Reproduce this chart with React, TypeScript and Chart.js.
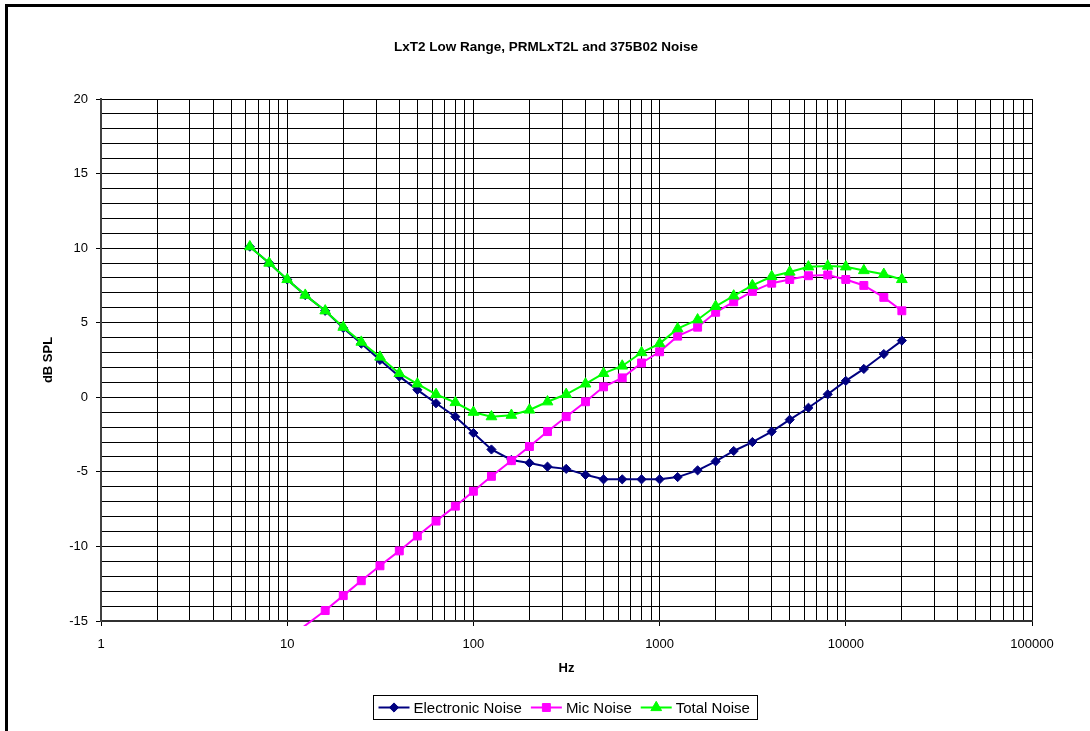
import React, { useEffect, useRef } from 'react';
import { Chart, registerables } from 'chart.js';

Chart.register(...registerables);

const chartTitle = 'LxT2 Low Range, PRMLxT2L and 375B02 Noise';
const xAxisTitle = 'Hz';
const yAxisTitle = 'dB SPL';

const freqs = [6.3, 8, 10, 12.5, 16, 20, 25, 31.5, 40, 50, 63, 80, 100, 125, 160, 200, 250, 315, 400, 500, 630, 800, 1000, 1250, 1600, 2000, 2500, 3150, 4000, 5000, 6300, 8000, 10000, 12500, 16000, 20000];
const electronicNoise = [10.1, 9.0, 7.9, 6.85, 5.8, 4.65, 3.6, 2.5, 1.4, 0.5, -0.4, -1.3, -2.4, -3.5, -4.2, -4.4, -4.65, -4.8, -5.2, -5.5, -5.5, -5.5, -5.5, -5.35, -4.9, -4.3, -3.6, -3.0, -2.3, -1.5, -0.7, 0.2, 1.1, 1.9, 2.9, 3.8];
const micNoise = [-18.3, -17.3, -16.3, -15.3, -14.3, -13.3, -12.3, -11.3, -10.3, -9.3, -8.3, -7.3, -6.3, -5.3, -4.25, -3.3, -2.3, -1.3, -0.3, 0.7, 1.3, 2.3, 3.05, 4.1, 4.7, 5.7, 6.4, 7.1, 7.65, 7.9, 8.15, 8.2, 7.9, 7.5, 6.7, 5.8];
const totalNoise = [10.1, 9.0, 7.9, 6.85, 5.8, 4.7, 3.7, 2.7, 1.6, 0.9, 0.2, -0.35, -1.0, -1.3, -1.2, -0.85, -0.3, 0.2, 0.9, 1.6, 2.1, 3.0, 3.6, 4.6, 5.2, 6.1, 6.8, 7.5, 8.1, 8.4, 8.75, 8.8, 8.75, 8.5, 8.25, 7.9];

const seriesNames = ['Electronic Noise', 'Mic Noise', 'Total Noise'];
const seriesColors = ['#000080', '#FF00FF', '#00FF00'];
const seriesMarkers = ['rectRot', 'rect', 'triangle'];
const markerRadius = [4.6, 5.6, 6.2];

const yMin = -15;
const yMax = 20;
const xMin = 1;
const xMax = 100000;

const FONT = '"Liberation Sans", Arial, sans-serif';

const isPow10 = (v: number) => {
  const l = Math.log10(v);
  return Math.abs(l - Math.round(l)) < 1e-9;
};

function buildXTicks() {
  const out: { value: number }[] = [];
  for (let k = 0; k < 5; k++) {
    for (let m = 1; m <= 9; m++) out.push({ value: m * Math.pow(10, k) });
  }
  out.push({ value: xMax });
  return out;
}

function buildYTicks() {
  const out: { value: number }[] = [];
  for (let v = yMin; v <= yMax; v++) out.push({ value: v });
  return out;
}

function drawMarker(ctx: CanvasRenderingContext2D, style: string, x: number, y: number, r: number, color: string) {
  ctx.save();
  ctx.fillStyle = color;
  ctx.strokeStyle = color;
  ctx.lineWidth = 1;
  ctx.beginPath();
  if (style === 'rectRot') {
    ctx.moveTo(x, y - r);
    ctx.lineTo(x + r, y);
    ctx.lineTo(x, y + r);
    ctx.lineTo(x - r, y);
  } else if (style === 'rect') {
    const s = r * Math.SQRT1_2;
    ctx.rect(x - s, y - s, 2 * s, 2 * s);
  } else {
    ctx.moveTo(x, y - r);
    ctx.lineTo(x + Math.sin((2 * Math.PI) / 3) * r, y + r * 0.5);
    ctx.lineTo(x - Math.sin((2 * Math.PI) / 3) * r, y + r * 0.5);
  }
  ctx.closePath();
  ctx.fill();
  ctx.stroke();
  ctx.restore();
}

const decorPlugin = {
  id: 'decor',
  afterDraw(chart: any) {
    const ctx: CanvasRenderingContext2D = chart.ctx;
    const area = chart.chartArea;
    ctx.save();
    // outer frame (top & left visible)
    ctx.fillStyle = '#000';
    ctx.fillRect(5, 4, 1090, 3);
    ctx.fillRect(5, 4, 3, 731);

    // title
    ctx.fillStyle = '#000';
    ctx.textAlign = 'center';
    ctx.textBaseline = 'middle';
    ctx.font = `bold 13.5px ${FONT}`;
    ctx.fillText(chartTitle, 546, 47);

    // x axis title
    ctx.font = `bold 13px ${FONT}`;
    ctx.fillText(xAxisTitle, (area.left + area.right) / 2, 668);

    // y axis title
    ctx.save();
    ctx.translate(48, (area.top + area.bottom) / 2);
    ctx.rotate(-Math.PI / 2);
    ctx.fillText(yAxisTitle, 0, 0);
    ctx.restore();

    // legend
    ctx.font = `15px ${FONT}`;
    const lineLen = 31;
    const widths = seriesNames.map((n) => ctx.measureText(n).width);
    const total = 5 + widths.reduce((a, w) => a + 35 + w, 0) + 9 * (seriesNames.length - 1) + 8;
    const boxLeft = Math.round(565 - total / 2) + 0.5;
    const boxTop = 695.5;
    const boxH = 24;
    ctx.fillStyle = '#fff';
    ctx.fillRect(boxLeft, boxTop, total, boxH);
    ctx.strokeStyle = '#000';
    ctx.lineWidth = 1;
    ctx.strokeRect(boxLeft, boxTop, Math.round(total), boxH);
    let x = boxLeft + 5;
    const cy = boxTop + boxH / 2;
    seriesNames.forEach((name, i) => {
      ctx.strokeStyle = seriesColors[i];
      ctx.lineWidth = 2;
      ctx.beginPath();
      ctx.moveTo(x, cy);
      ctx.lineTo(x + lineLen, cy);
      ctx.stroke();
      drawMarker(ctx, seriesMarkers[i], x + lineLen / 2, cy, markerRadius[i], seriesColors[i]);
      ctx.fillStyle = '#000';
      ctx.textAlign = 'left';
      ctx.textBaseline = 'middle';
      ctx.fillText(name, x + 35, cy + 1);
      x += 35 + widths[i] + 9;
    });
    ctx.restore();
  },
};

export default function App() {
  const canvasRef = useRef<HTMLCanvasElement | null>(null);

  useEffect(() => {
    document.body.style.margin = '0';
    const canvas = canvasRef.current;
    if (!canvas) return;

    const series = [electronicNoise, micNoise, totalNoise];
    const datasets = series.map((vals, i) => ({
      label: seriesNames[i],
      data: freqs.map((f, j) => ({ x: f, y: vals[j] })),
      borderColor: seriesColors[i],
      backgroundColor: seriesColors[i],
      borderWidth: 2,
      pointStyle: seriesMarkers[i],
      pointRadius: (c: any) => (c.raw && c.raw.y < yMin ? 0 : markerRadius[i]),
      pointBorderColor: seriesColors[i],
      pointBackgroundColor: seriesColors[i],
      pointBorderWidth: 1,
      tension: 0,
      order: 3 - i,
      clip: { left: 0, top: 0, right: 0, bottom: 5 },
    }));

    const chart = new Chart(canvas, {
      type: 'line',
      data: { datasets: datasets as any },
      options: {
        responsive: false,
        animation: false,
        devicePixelRatio: 1,
        layout: { padding: { top: 99, right: 58, bottom: 0, left: 0 } },
        plugins: {
          legend: { display: false },
          title: { display: false },
          tooltip: { enabled: false },
        },
        scales: {
          x: {
            type: 'logarithmic',
            min: xMin,
            max: xMax,
            afterBuildTicks: (scale: any) => {
              scale.ticks = buildXTicks();
            },
            afterFit: (scale: any) => {
              scale.height = 110;
            },
            ticks: {
              autoSkip: false,
              maxRotation: 0,
              minRotation: 0,
              padding: 11,
              color: '#000',
              font: { family: FONT, size: 13 },
              callback: (v: any) => (isPow10(Number(v)) ? String(Number(v)) : ''),
            },
            grid: {
              color: '#000',
              lineWidth: 1,
              drawTicks: true,
              tickLength: 5,
              tickColor: (c: any) => (c.tick && isPow10(c.tick.value) ? '#000' : 'rgba(0,0,0,0)'),
            },
            border: { color: '#303030', width: 2 },
          },
          y: {
            type: 'linear',
            min: yMin,
            max: yMax,
            afterBuildTicks: (scale: any) => {
              scale.ticks = buildYTicks();
            },
            afterFit: (scale: any) => {
              scale.width = 101;
            },
            ticks: {
              autoSkip: false,
              padding: 8,
              color: '#000',
              font: { family: FONT, size: 13 },
              callback: (v: any) => (Number(v) % 5 === 0 ? String(v) : ''),
            },
            grid: {
              color: '#000',
              lineWidth: 1,
              drawTicks: true,
              tickLength: 5,
              tickColor: (c: any) => (c.tick && c.tick.value % 5 === 0 ? '#000' : 'rgba(0,0,0,0)'),
            },
            border: { color: '#404040', width: 2 },
          },
        },
      },
      plugins: [decorPlugin],
    });

    return () => {
      chart.destroy();
    };
  }, []);

  return (
    <div style={{ position: 'absolute', left: 0, top: 0, width: 1090, height: 731, background: '#fff', overflow: 'hidden' }}>
      <canvas ref={canvasRef} width={1090} height={731} style={{ display: 'block' }} />
    </div>
  );
}
